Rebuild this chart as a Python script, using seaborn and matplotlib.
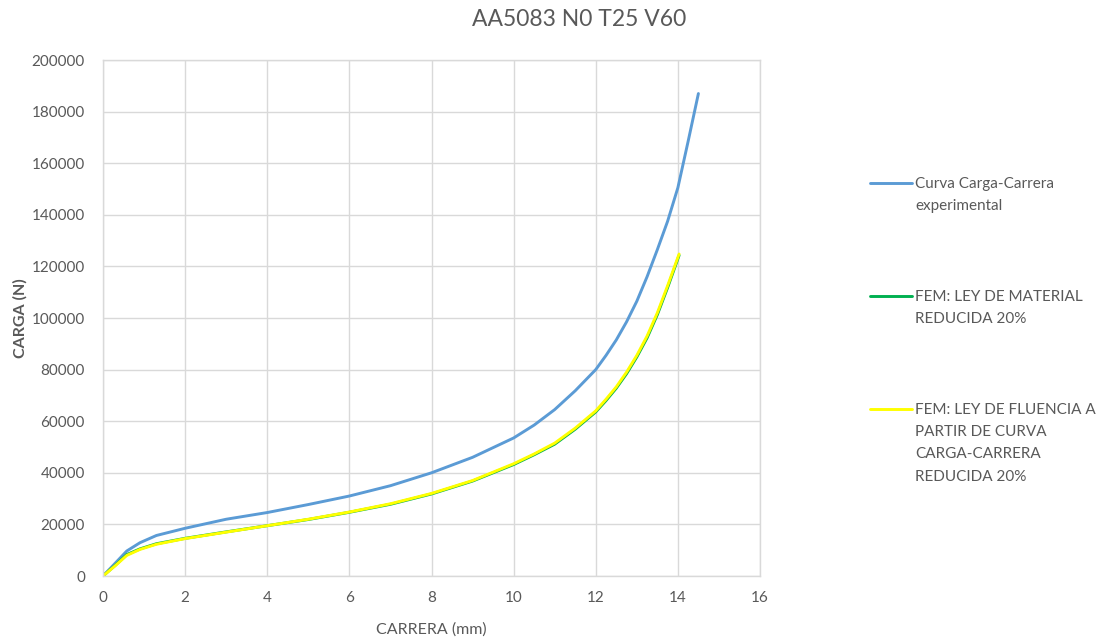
import matplotlib
matplotlib.use("Agg")
import matplotlib.pyplot as plt
from matplotlib.lines import Line2D
import seaborn as sns
import pandas as pd

title = "AA5083 N0 T25 V60"
x_label = "CARRERA (mm)"
y_label = "CARGA (N)"
series_names = [
    "Curva Carga-Carrera\nexperimental",
    "FEM: LEY DE MATERIAL\nREDUCIDA 20%",
    "FEM: LEY DE FLUENCIA A\nPARTIR DE CURVA\nCARGA-CARRERA\nREDUCIDA 20%",
]
colors = ["#5B9BD5", "#00B050", "#FFFF00"]

exp_x = [0, 0.3, 0.58, 0.9, 1.3, 2.0, 3.0, 4.0, 5.0, 6.0, 7.0, 8.0, 9.0, 10.0,
         10.5, 11.0, 11.5, 12.0, 12.25, 12.5, 12.75, 13.0, 13.25, 13.5, 13.75,
         14.0, 14.25, 14.5]
exp_y = [0, 5000, 9700, 12900, 15700, 18500, 22000, 24600, 27700, 31000, 35000,
         40000, 46000, 53500, 58500, 64500, 71800, 80000, 85500, 91500, 98500,
         106500, 116000, 126500, 137500, 150500, 168500, 187000]

fem_x = [0, 0.3, 0.58, 0.9, 1.3, 2.0, 3.0, 4.0, 5.0, 6.0, 7.0, 8.0, 9.0, 10.0,
         10.5, 11.0, 11.5, 12.0, 12.25, 12.5, 12.75, 13.0, 13.25, 13.5, 13.75,
         14.03]
mat_y = [0, 4200, 8300, 10500, 12500, 14600, 17100, 19500, 21900, 24700, 27800,
         31800, 36800, 43200, 47000, 51100, 56900, 63600, 68000, 72800, 78400,
         84900, 92300, 101300, 111800, 124300]
flu_y = [0, 4000, 8000, 10300, 12300, 14500, 17000, 19500, 22000, 24800, 28000,
         32000, 37000, 43500, 47300, 51500, 57300, 64000, 68500, 73300, 79000,
         85500, 93000, 102000, 112500, 124800]

x_ticks = [0, 2, 4, 6, 8, 10, 12, 14, 16]
y_ticks = list(range(0, 200001, 20000))

df = pd.concat([
    pd.DataFrame({"x": exp_x, "y": exp_y, "s": series_names[0]}),
    pd.DataFrame({"x": fem_x, "y": mat_y, "s": series_names[1]}),
    pd.DataFrame({"x": fem_x, "y": flu_y, "s": series_names[2]}),
])

sns.set_theme(style="white")
plt.rcParams["font.family"] = ["Lato", "DejaVu Sans"]

W, H = 1107, 643
fig = plt.figure(figsize=(W / 100, H / 100), dpi=100)
ax = fig.add_axes([103 / W, 1 - 576 / H, (760 - 103) / W, (576 - 60) / H])

for name, c in zip(series_names, colors):
    sns.lineplot(data=df[df["s"] == name], x="x", y="y", color=c, lw=2.1,
                 sort=False, estimator=None, ax=ax, legend=False)

ax.set_xlim(0, 16)
ax.set_ylim(0, 200000)
ax.set_xticks(x_ticks)
ax.set_yticks(y_ticks)
ax.set_xticklabels([str(v) for v in x_ticks])
ax.set_yticklabels([str(v) for v in y_ticks])
ax.grid(True, color="#D9D9D9", lw=1.0)
for sp in ax.spines.values():
    sp.set_color("#D9D9D9")
    sp.set_linewidth(1.0)
ax.tick_params(axis="both", colors="#595959", labelsize=11, length=0)
ax.tick_params(axis="y", pad=13)
ax.tick_params(axis="x", pad=11)

ax.set_xlabel(x_label, color="#595959", fontsize=11.5, va="center")
ax.xaxis.set_label_coords(0.5, (576 - 630) / 516)
ax.set_ylabel(y_label, color="#595959", fontsize=11.5, fontweight="bold", va="center")
ax.yaxis.set_label_coords((20 - 103) / 657, 0.5)

fig.text(579 / W, 1 - 20 / H, title, ha="center", va="center", fontsize=16.5,
         color="#595959")

# legend (manual, figure coords in pixels)
leg_y = [183, 296, 409]
for name, c, yy in zip(series_names, colors, leg_y):
    fig.add_artist(Line2D([870 / W, 912 / W], [1 - yy / H, 1 - yy / H], color=c, lw=2.1))
    fig.text(915 / W, 1 - (yy - 6) / H, name, ha="left", va="top", fontsize=11,
             color="#595959", linespacing=1.75)

fig.savefig("out.png", dpi=100)
